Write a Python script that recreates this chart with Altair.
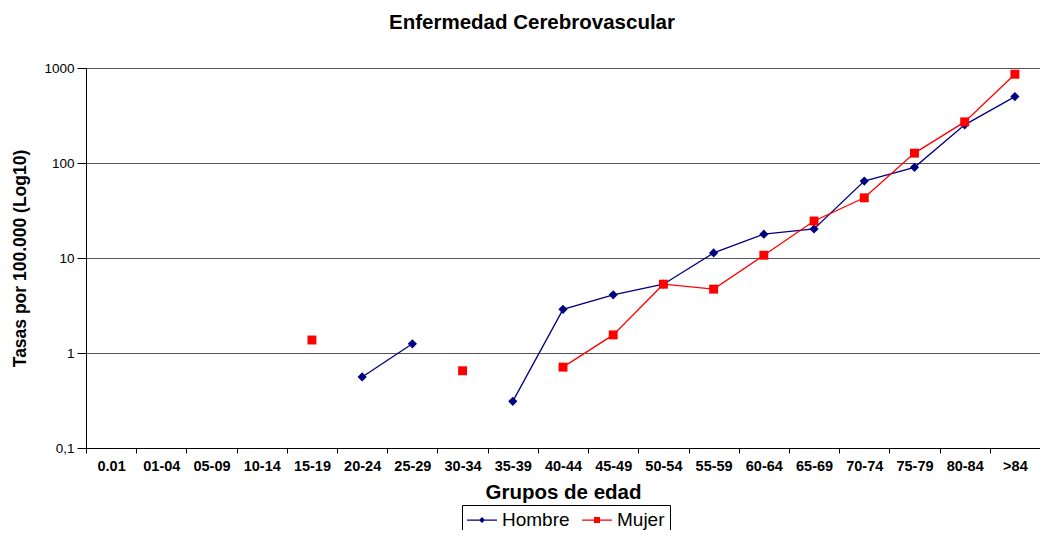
import altair as alt
import pandas as pd

categories = ["0.01", "01-04", "05-09", "10-14", "15-19", "20-24", "25-29", "30-34",
              "35-39", "40-44", "45-49", "50-54", "55-59", "60-64", "65-69", "70-74",
              "75-79", "80-84", ">84"]
hombre = [None, None, None, None, None, 0.56, 1.25, None, 0.31, 2.88, 4.1, 5.3,
          11.3, 17.8, 20.2, 64.6, 90, 252, 500]
mujer = [None, None, None, None, 1.37, None, None, 0.65, None, 0.71, 1.55, 5.3,
         4.7, 10.7, 24.5, 43, 127, 271, 860]

series_names = ["Hombre", "Mujer"]
series_colors = ["#000080", "#FF0000"]

rows = []
for name, vals in zip(series_names, [hombre, mujer]):
    seg = 0
    prev_none = True
    for c, v in zip(categories, vals):
        if v is None:
            prev_none = True
            continue
        if prev_none:
            seg += 1
        prev_none = False
        rows.append({"grupo": c, "tasa": v, "serie": name, "segmento": f"{name}-{seg}"})
df = pd.DataFrame(rows)

FONT = "Liberation Sans"

x_enc = alt.X("grupo:N", sort=categories, scale=alt.Scale(domain=categories, paddingInner=0, paddingOuter=0),
              axis=alt.Axis(title="Grupos de edad", labelAngle=0, labelFont=FONT, labelFontSize=14.5,
                            labelFontWeight="bold", labelColor="black", labelPadding=6,
                            tickBand="extent", tickSize=5, tickColor="black",
                            domainColor="black", titleFont=FONT, titleFontSize=20.5,
                            titleFontWeight="bold", titleColor="black", titlePadding=10,
                            grid=False))
y_enc = alt.Y("tasa:Q", scale=alt.Scale(type="log", domain=[0.1, 1000]),
              axis=alt.Axis(title="Tasas por 100.000 (Log10)", values=[0.1, 1, 10, 100, 1000],
                            labelExpr="datum.value < 1 ? '0,1' : format(datum.value, 'd')",
                            labelFont=FONT, labelFontSize=13.5, labelColor="black", labelPadding=3,
                            tickSize=9, tickColor="black", domainColor="black",
                            gridColor="#555555", gridWidth=1, grid=True,
                            titleFont=FONT, titleFontSize=17.5, titleFontWeight="bold",
                            titleColor="black", titlePadding=14))

lines_h = alt.Chart(df).transform_filter(alt.datum.serie == "Hombre").mark_line(
    strokeWidth=1.3, color=series_colors[0]).encode(x=x_enc, y=y_enc, detail="segmento:N")
lines_m = alt.Chart(df).transform_filter(alt.datum.serie == "Mujer").mark_line(
    strokeWidth=1.3, color=series_colors[1]).encode(x=x_enc, y=y_enc, detail="segmento:N")

pts_h = alt.Chart(df).transform_filter(alt.datum.serie == "Hombre").mark_point(
    filled=True, opacity=1, size=85, shape="diamond", color=series_colors[0]).encode(x=x_enc, y=y_enc)
pts_m = alt.Chart(df).transform_filter(alt.datum.serie == "Mujer").mark_point(
    filled=True, opacity=1, size=80, shape="square", color=series_colors[1]).encode(x=x_enc, y=y_enc)

# legend symbols: a thin bar (the line) plus the marker, both filled
legend_paths = [
    "M-1.5,-0.065L1.5,-0.065L1.5,0.065L-1.5,0.065Z M0,-0.3L0.3,0L0,0.3L-0.3,0Z",
    "M-1.5,-0.065L1.5,-0.065L1.5,0.065L-1.5,0.065Z M-0.3,-0.3L0.3,-0.3L0.3,0.3L-0.3,0.3Z",
]
leg = alt.Legend(orient="none", legendX=376, legendY=437, direction="horizontal", labelFont=FONT,
                 labelFontSize=19, labelColor="black", symbolSize=400, symbolStrokeWidth=0,
                 symbolOpacity=1, symbolOffset=5,
                 titleFontSize=0.1, titleColor="white", titlePadding=0,
                 strokeColor="black", padding=5, labelOffset=10,
                 columnPadding=12)

legend_layer = alt.Chart(df).mark_point(filled=True, opacity=0).encode(
    x=x_enc, y=y_enc,
    color=alt.Color("serie:N", scale=alt.Scale(domain=series_names, range=series_colors), legend=leg),
    shape=alt.Shape("serie:N", scale=alt.Scale(domain=series_names, range=legend_paths), legend=leg),
)

chart = alt.layer(lines_h, lines_m, pts_h, pts_m, legend_layer).properties(
    width=954, height=380,
    title=alt.Title("Enfermedad Cerebrovascular", font=FONT, fontSize=20.5, fontWeight="bold",
                    color="black", anchor="middle", offset=28, dx=-31),
    autosize=alt.AutoSizeParams(type="none"),
    padding={"left": 78, "top": 60, "right": 0, "bottom": 82},
).configure_view(stroke=None)

chart.save("out.html", embed_options={"renderer": "svg", "actions": False})
